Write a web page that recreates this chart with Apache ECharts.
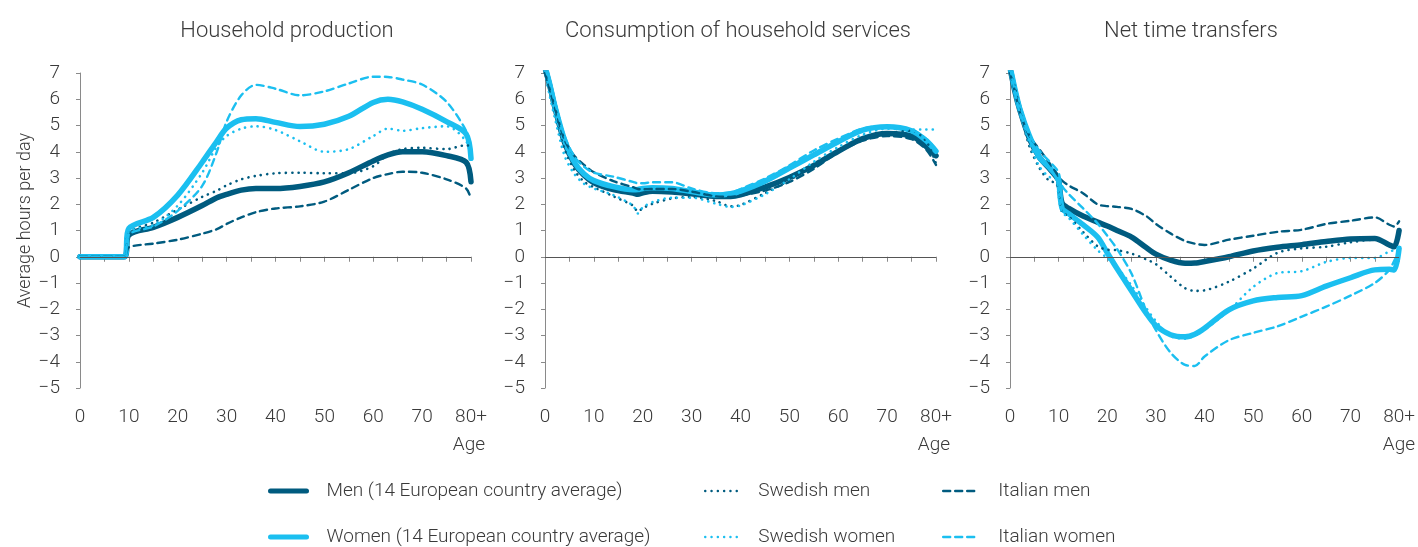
<!DOCTYPE html>
<html>
<head>
<meta charset="utf-8">
<script src="https://cdn.jsdelivr.net/npm/echarts@6/dist/echarts.min.js"></script>
<style>
html,body{margin:0;padding:0;background:#fff;}
#chart{width:1418px;height:547px;}
</style>
</head>
<body>
<div id="chart"></div>
<script>
// ---------- DATA ----------
const panelTitles = ['Household production', 'Consumption of household services', 'Net time transfers'];
const seriesNames = ['Men (14 European country average)', 'Women (14 European country average)', 'Swedish men', 'Swedish women', 'Italian men', 'Italian women'];
const yTicks = [-5, -4, -3, -2, -1, 0, 1, 2, 3, 4, 5, 6, 7];
const xTickLabels = ['0', '10', '20', '30', '40', '50', '60', '70', '80+'];
const xAxisTitle = 'Age';
const yAxisTitle = 'Average hours per day';

// Panel 1: Household production
const ages1 = [0, 9, 10, 15, 20, 25, 28, 30, 33, 36, 40, 45, 50, 55, 60, 63, 66, 70, 75, 79, 80];
const p1Men = [0, 0, 0.83, 1.12, 1.5, 1.95, 2.25, 2.38, 2.54, 2.6, 2.6, 2.68, 2.85, 3.2, 3.65, 3.88, 4.0, 4.0, 3.85, 3.6, 2.86];
const p1Women = [0, 0, 1.08, 1.5, 2.35, 3.6, 4.4, 4.9, 5.22, 5.26, 5.12, 4.96, 5.05, 5.35, 5.88, 6.0, 5.9, 5.62, 5.15, 4.68, 3.75];
const p1SweMen = [0, 0, 0.92, 1.3, 1.8, 2.28, 2.52, 2.72, 2.95, 3.08, 3.18, 3.2, 3.18, 3.18, 3.45, 3.9, 4.1, 4.15, 4.1, 4.25, 4.2];
const p1SweWomen = [0, 0, 0.95, 1.2, 1.95, 3.2, 4.2, 4.6, 4.88, 4.97, 4.83, 4.4, 4.0, 4.1, 4.6, 4.88, 4.8, 4.9, 4.97, 4.4, 3.8];
const p1ItaMen = [0, 0, 0.36, 0.5, 0.65, 0.88, 1.05, 1.25, 1.5, 1.7, 1.84, 1.92, 2.1, 2.55, 3.0, 3.15, 3.24, 3.2, 2.95, 2.6, 2.2];
const p1ItaWomen = [0, 0, 0.85, 1.15, 1.75, 2.7, 4.0, 5.15, 6.15, 6.55, 6.4, 6.15, 6.3, 6.6, 6.86, 6.85, 6.75, 6.56, 5.9, 4.8, 4.2];

// Panel 2: Consumption of household services
const ages2 = [0, 1, 2, 4, 6, 8, 10, 14, 18, 19, 20, 22, 26, 30, 35, 38, 40, 45, 50, 55, 60, 65, 70, 75, 78, 80];
const p2Men = [7.2, 6.5, 5.7, 4.35, 3.55, 3.1, 2.82, 2.56, 2.43, 2.38, 2.44, 2.5, 2.47, 2.4, 2.3, 2.3, 2.36, 2.65, 3.02, 3.48, 4.02, 4.5, 4.7, 4.6, 4.2, 3.85];
const p2Women = [7.25, 6.55, 5.75, 4.45, 3.6, 3.15, 2.9, 2.67, 2.55, 2.56, 2.6, 2.63, 2.6, 2.48, 2.35, 2.4, 2.5, 2.88, 3.38, 3.88, 4.38, 4.82, 4.95, 4.8, 4.42, 4.02];
const p2SweMen = [7.0, 6.2, 5.4, 4.1, 3.3, 2.86, 2.65, 2.3, 1.95, 1.72, 1.85, 2.02, 2.22, 2.28, 2.12, 1.92, 1.97, 2.42, 2.92, 3.48, 4.05, 4.52, 4.7, 4.8, 4.4, 3.55];
const p2SweWomen = [7.0, 6.1, 5.3, 3.85, 3.15, 2.78, 2.6, 2.35, 1.95, 1.65, 1.88, 2.08, 2.25, 2.25, 2.02, 1.9, 1.95, 2.38, 2.95, 3.62, 4.18, 4.65, 4.88, 4.85, 4.85, 4.85];
const p2ItaMen = [7.0, 6.35, 5.7, 4.45, 3.85, 3.5, 3.22, 2.88, 2.65, 2.58, 2.57, 2.58, 2.58, 2.48, 2.3, 2.28, 2.33, 2.52, 2.85, 3.35, 3.98, 4.42, 4.6, 4.48, 4.08, 3.5];
const p2ItaWomen = [7.2, 6.6, 5.9, 4.6, 3.82, 3.43, 3.2, 3.05, 2.85, 2.8, 2.8, 2.84, 2.84, 2.6, 2.42, 2.45, 2.58, 2.98, 3.48, 4.05, 4.5, 4.88, 4.98, 4.83, 4.5, 4.05];

// Panel 3: Net time transfers
const ages3 = [0, 1, 2, 4, 6, 8, 9.5, 10, 10.7, 12, 15, 18, 20, 22, 25, 28, 30, 33, 36, 38, 40, 45, 50, 55, 60, 65, 70, 75, 78, 79, 80];
const p3Men = [7.2, 6.3, 5.6, 4.5, 3.8, 3.38, 3.05, 2.9, 2.05, 1.85, 1.55, 1.32, 1.17, 1.0, 0.75, 0.35, 0.1, -0.13, -0.25, -0.24, -0.18, 0.0, 0.22, 0.36, 0.46, 0.58, 0.68, 0.7, 0.45, 0.38, 1.0];
const p3Women = [7.25, 6.4, 5.65, 4.6, 3.8, 3.42, 3.1, 2.9, 1.85, 1.65, 1.22, 0.75, 0.15, -0.45, -1.3, -2.15, -2.62, -2.97, -3.05, -2.95, -2.72, -2.02, -1.68, -1.55, -1.48, -1.12, -0.8, -0.5, -0.48, -0.5, 0.32];
const p3SweMen = [7.0, 6.45, 5.6, 4.2, 3.4, 2.9, 2.8, 2.4, 1.7, 1.55, 0.95, 0.4, 0.27, 0.25, 0.12, -0.1, -0.28, -0.75, -1.2, -1.3, -1.28, -0.95, -0.45, 0.15, 0.32, 0.38, 0.55, 0.65, 0.45, 0.4, 0.9];
const p3SweWomen = [7.0, 6.3, 5.5, 4.35, 3.45, 3.05, 2.95, 2.3, 1.7, 1.5, 0.85, 0.25, -0.05, -0.4, -1.1, -1.95, -2.45, -3.02, -3.12, -3.0, -2.78, -2.05, -1.15, -0.62, -0.55, -0.2, -0.05, -0.05, 0.2, 0.25, 0.3];
const p3ItaMen = [7.0, 6.3, 5.5, 4.6, 4.1, 3.6, 3.2, 3.05, 2.9, 2.72, 2.42, 2.0, 1.93, 1.9, 1.82, 1.55, 1.25, 0.89, 0.6, 0.5, 0.45, 0.65, 0.8, 0.95, 1.03, 1.25, 1.37, 1.5, 1.22, 1.15, 1.35];
const p3ItaWomen = [7.2, 6.3, 5.5, 4.65, 4.05, 3.65, 3.35, 3.2, 2.7, 2.4, 1.85, 1.27, 0.8, 0.3, -0.65, -2.05, -2.8, -3.65, -4.12, -4.16, -3.8, -3.18, -2.9, -2.65, -2.28, -1.9, -1.48, -1.0, -0.5, -0.15, 0.2];

// ---------- BUILD ----------
const DARK = '#005b7f';
const LIGHT = '#1bbff0';
const TEXT = '#3a3a3a';
const FONT = 'Roboto, "Noto Sans", sans-serif';
const FW = 300;

const panels = [
  { ages: ages1, vals: [p1Men, p1Women, p1SweMen, p1SweWomen, p1ItaMen, p1ItaWomen], left: 80, titleX: 287 },
  { ages: ages2, vals: [p2Men, p2Women, p2SweMen, p2SweWomen, p2ItaMen, p2ItaWomen], left: 545, titleX: 738 },
  { ages: ages3, vals: [p3Men, p3Women, p3SweMen, p3SweWomen, p3ItaMen, p3ItaWomen], left: 1010, titleX: 1191 }
];
const GRID_W = 391, GRID_TOP = 73, GRID_H = 315;

const styles = [
  { color: DARK, width: 5.5, type: 'solid' },
  { color: LIGHT, width: 5.5, type: 'solid' },
  { color: DARK, width: 2.6, type: [0.1, 6.2] },
  { color: LIGHT, width: 2.6, type: [0.1, 6.2] },
  { color: DARK, width: 2.4, type: [7, 5] },
  { color: LIGHT, width: 2.4, type: [7, 5] }
];

const grids = [], xAxes = [], yAxes = [], series = [], titles = [], graphics = [];
panels.forEach((p, i) => {
  grids.push({ left: p.left, top: GRID_TOP, width: GRID_W, height: GRID_H, containLabel: false });
  titles.push({
    text: panelTitles[i], left: p.titleX, top: 20, textAlign: 'center', padding: 0,
    textStyle: { fontFamily: FONT, fontSize: 22, fontWeight: FW, color: TEXT }
  });
  graphics.push({
    type: 'text', x: p.left + GRID_W + 14, y: 445, silent: true,
    style: { text: xAxisTitle, align: 'right', verticalAlign: 'middle', fontFamily: FONT, fontSize: 19, fontWeight: FW, fill: TEXT }
  });
  xAxes.push({
    type: 'value', gridIndex: i, min: 0, max: 80, interval: 5,
    axisLine: { show: true, lineStyle: { color: '#8a8a8a', width: 1 } },
    axisTick: { show: true, length: 5, lineStyle: { color: '#8a8a8a' } },
    splitLine: { show: false },
    axisLabel: {
      margin: 20, fontFamily: FONT, fontSize: 19, fontWeight: FW, color: TEXT, showMinLabel: true, showMaxLabel: true,
      formatter: v => (v % 10 === 0 ? xTickLabels[v / 10] : '')
    }
  });
  const y = {
    type: 'value', gridIndex: i, min: -5, max: 7, interval: 1,
    axisLine: { show: true, lineStyle: { color: '#8a8a8a', width: 1 } },
    axisTick: { show: true, length: 4, lineStyle: { color: '#8a8a8a' } },
    splitLine: { show: false },
    axisLabel: {
      margin: 20, fontFamily: FONT, fontSize: 19, fontWeight: FW, color: TEXT,
      formatter: v => (yTicks.indexOf(v) >= 0 ? (v < 0 ? '\u2212' + Math.abs(v) : String(v)) : '')
    }
  };
  if (i === 0) {
    Object.assign(y, {
      name: yAxisTitle, nameLocation: 'middle', nameRotate: 90, nameGap: 42,
      nameTextStyle: { fontFamily: FONT, fontSize: 18, fontWeight: FW, color: TEXT, padding: [0, 0, 0, 20] }
    });
  }
  yAxes.push(y);
  seriesNames.forEach((name, k) => {
    const s = {
      name: name, type: 'line', xAxisIndex: i, yAxisIndex: i,
      data: p.ages.map((a, j) => [a, p.vals[k][j]]),
      smooth: 0.3, symbol: 'none', showSymbol: false,
      lineStyle: { color: styles[k].color, width: styles[k].width, type: styles[k].type, cap: 'round', join: 'round' },
      itemStyle: { color: styles[k].color },
      emphasis: { disabled: true }, silent: true, z: k < 2 ? 2 : 3
    };
    if (k === 0) {
      s.markLine = {
        silent: true, symbol: 'none', label: { show: false }, animation: false,
        lineStyle: { color: '#555', width: 1, type: 'solid' },
        emphasis: { disabled: true },
        data: [{ yAxis: 0 }]
      };
    }
    series.push(s);
  });
});

const legendPos = [
  { left: 268, top: 478, pad: 15 }, { left: 268, top: 524, pad: 15 },
  { left: 704, top: 478, pad: 12 }, { left: 704, top: 524, pad: 12 },
  { left: 942, top: 478, pad: 14 }, { left: 942, top: 524, pad: 14 }
];
const legends = seriesNames.map((name, k) => ({
  data: [name], left: legendPos[k].left, top: legendPos[k].top, padding: 0,
  itemWidth: 36, itemHeight: 14, selectedMode: false,
  lineStyle: { width: k < 2 ? 5 : 2.4, cap: 'round', type: styles[k].type, color: styles[k].color },
  itemStyle: { opacity: 0 },
  textStyle: { fontFamily: FONT, fontSize: 19, fontWeight: FW, lineHeight: 26, color: TEXT, padding: [0, 0, 0, legendPos[k].pad] }
}));

const chart = echarts.init(document.getElementById('chart'), null, { renderer: 'canvas' });
chart.setOption({
  animation: false,
  backgroundColor: '#ffffff',
  title: titles,
  grid: grids,
  xAxis: xAxes,
  yAxis: yAxes,
  legend: legends,
  graphic: graphics,
  series: series
});
</script>
</body>
</html>
